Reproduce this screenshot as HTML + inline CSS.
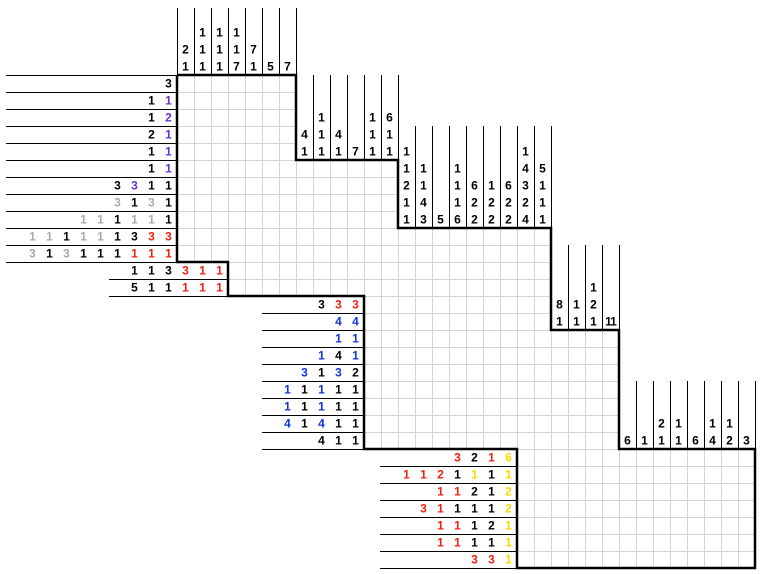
<!DOCTYPE html>
<html><head><meta charset="utf-8"><style>
html,body{margin:0;padding:0;background:#fff;}
svg{display:block;}
text{font-family:"Liberation Sans",Arial,sans-serif;font-weight:bold;font-size:12px;text-anchor:middle;fill:#000;}
.p{fill:#6633cc}.g{fill:#aaaaaa}.r{fill:#ee2211}.b{fill:#1133dd}.y{fill:#ffd700}
</style></head><body>
<svg width="761" height="574" viewBox="0 0 761 574" xmlns="http://www.w3.org/2000/svg">
<defs>
<pattern id="gr" x="177" y="75" width="17" height="17" patternUnits="userSpaceOnUse">
<path d="M0 0.5H17M0.5 0V17" stroke="#d4d4d4" stroke-width="1" fill="none"/>
</pattern>
</defs>
<rect x="177" y="75" width="578" height="493" fill="url(#gr)"/>
<polygon points="296,75 761,75 761,449 619,449 619,330 551,330 551,228 398,228 398,160 296,160" fill="#fff"/>
<polygon points="177,262 228,262 228,296 364,296 364,449 517,449 517,574 177,574" fill="#fff"/>
<g stroke="#000" stroke-width="1">
<path d="M177.5 8V75M194.5 8V75M211.5 8V75M228.5 8V75M245.5 8V75M262.5 8V75M279.5 8V75M296.5 8V75"/>
<path d="M313.5 75V160M330.5 75V160M347.5 75V160M364.5 75V160M381.5 75V160M398.5 75V160"/>
<path d="M398.5 126V228M415.5 126V228M432.5 126V228M449.5 126V228M466.5 126V228M483.5 126V228M500.5 126V228M517.5 126V228M534.5 126V228M551.5 126V228"/>
<path d="M568.5 245V330M585.5 245V330M602.5 245V330M619.5 245V330"/>
<path d="M636.5 381V449M653.5 381V449M670.5 381V449M687.5 381V449M704.5 381V449M721.5 381V449M738.5 381V449M755.5 381V449"/>
<path d="M6 75.5H177M6 92.5H177M6 109.5H177M6 126.5H177M6 143.5H177M6 160.5H177M6 177.5H177M6 194.5H177M6 211.5H177M6 228.5H177M6 245.5H177M6 262.5H177"/>
<path d="M109 279.5H228M109 296.5H228"/>
<path d="M262 313.5H364M262 330.5H364M262 347.5H364M262 364.5H364M262 381.5H364M262 398.5H364M262 415.5H364M262 432.5H364M262 449.5H364M228 296.5H364"/>
<path d="M380 466.5H517M380 483.5H517M380 500.5H517M380 517.5H517M380 534.5H517M380 551.5H517M380 568.5H517"/>
</g>
<polyline points="177,75 296,75 296,160 398,160 398,228 551,228 551,330 619,330 619,449 755,449 755,568 517,568 517,449 364,449 364,296 228,296 228,262 177,262 177,75" fill="none" stroke="#000" stroke-width="2.5"/>

<text x="185.5" y="53.5">2</text><text x="185.5" y="70.5">1</text>
<text x="202.5" y="36.5">1</text><text x="202.5" y="53.5">1</text><text x="202.5" y="70.5">1</text>
<text x="219.5" y="36.5">1</text><text x="219.5" y="53.5">1</text><text x="219.5" y="70.5">1</text>
<text x="236.5" y="36.5">1</text><text x="236.5" y="53.5">1</text><text x="236.5" y="70.5">7</text>
<text x="253.5" y="53.5">7</text><text x="253.5" y="70.5">1</text>
<text x="270.5" y="70.5">5</text>
<text x="287.5" y="70.5">7</text>
<text x="304.5" y="138.5">4</text><text x="304.5" y="155.5">1</text>
<text x="321.5" y="121.5">1</text><text x="321.5" y="138.5">1</text><text x="321.5" y="155.5">1</text>
<text x="338.5" y="138.5">4</text><text x="338.5" y="155.5">1</text>
<text x="355.5" y="155.5">7</text>
<text x="372.5" y="121.5">1</text><text x="372.5" y="138.5">1</text><text x="372.5" y="155.5">1</text>
<text x="389.5" y="121.5">6</text><text x="389.5" y="138.5">1</text><text x="389.5" y="155.5">1</text>
<text x="406.5" y="155.5">1</text><text x="406.5" y="172.5">1</text><text x="406.5" y="189.5">2</text><text x="406.5" y="206.5">1</text><text x="406.5" y="223.5">1</text>
<text x="423.5" y="172.5">1</text><text x="423.5" y="189.5">1</text><text x="423.5" y="206.5">4</text><text x="423.5" y="223.5">3</text>
<text x="440.5" y="223.5">5</text>
<text x="457.5" y="172.5">1</text><text x="457.5" y="189.5">1</text><text x="457.5" y="206.5">1</text><text x="457.5" y="223.5">6</text>
<text x="474.5" y="189.5">6</text><text x="474.5" y="206.5">2</text><text x="474.5" y="223.5">2</text>
<text x="491.5" y="189.5">1</text><text x="491.5" y="206.5">2</text><text x="491.5" y="223.5">2</text>
<text x="508.5" y="189.5">6</text><text x="508.5" y="206.5">2</text><text x="508.5" y="223.5">2</text>
<text x="525.5" y="155.5">1</text><text x="525.5" y="172.5">4</text><text x="525.5" y="189.5">3</text><text x="525.5" y="206.5">2</text><text x="525.5" y="223.5">4</text>
<text x="542.5" y="172.5">5</text><text x="542.5" y="189.5">1</text><text x="542.5" y="206.5">1</text><text x="542.5" y="223.5">1</text>
<text x="559.5" y="308.5">8</text><text x="559.5" y="325.5">1</text>
<text x="576.5" y="308.5">1</text><text x="576.5" y="325.5">1</text>
<text x="593.5" y="291.5">1</text><text x="593.5" y="308.5">2</text><text x="593.5" y="325.5">1</text>
<text x="610.5" y="325.5" style="letter-spacing:-1px">11</text>
<text x="627.5" y="444.5">6</text>
<text x="644.5" y="444.5">1</text>
<text x="661.5" y="427.5">2</text><text x="661.5" y="444.5">1</text>
<text x="678.5" y="427.5">1</text><text x="678.5" y="444.5">1</text>
<text x="695.5" y="444.5">6</text>
<text x="712.5" y="427.5">1</text><text x="712.5" y="444.5">4</text>
<text x="729.5" y="427.5">1</text><text x="729.5" y="444.5">2</text>
<text x="746.5" y="444.5">3</text>

<text x="168.5" y="87.5">3</text>
<text x="151.5" y="104.5">1</text><text x="168.5" y="104.5" class="p">1</text>
<text x="151.5" y="121.5">1</text><text x="168.5" y="121.5" class="p">2</text>
<text x="151.5" y="138.5">2</text><text x="168.5" y="138.5" class="p">1</text>
<text x="151.5" y="155.5">1</text><text x="168.5" y="155.5" class="p">1</text>
<text x="151.5" y="172.5">1</text><text x="168.5" y="172.5" class="p">1</text>
<text x="117.5" y="189.5">3</text><text x="134.5" y="189.5" class="p">3</text><text x="151.5" y="189.5">1</text><text x="168.5" y="189.5">1</text>
<text x="117.5" y="206.5" class="g">3</text><text x="134.5" y="206.5">1</text><text x="151.5" y="206.5" class="g">3</text><text x="168.5" y="206.5">1</text>
<text x="83.5" y="223.5" class="g">1</text><text x="100.5" y="223.5" class="g">1</text><text x="117.5" y="223.5">1</text><text x="134.5" y="223.5" class="g">1</text><text x="151.5" y="223.5" class="g">1</text><text x="168.5" y="223.5">1</text>
<text x="32.5" y="240.5" class="g">1</text><text x="49.5" y="240.5" class="g">1</text><text x="66.5" y="240.5">1</text><text x="83.5" y="240.5" class="g">1</text><text x="100.5" y="240.5" class="g">1</text><text x="117.5" y="240.5">1</text><text x="134.5" y="240.5">3</text><text x="151.5" y="240.5" class="r">3</text><text x="168.5" y="240.5" class="r">3</text>
<text x="32.5" y="257.5" class="g">3</text><text x="49.5" y="257.5">1</text><text x="66.5" y="257.5" class="g">3</text><text x="83.5" y="257.5">1</text><text x="100.5" y="257.5">1</text><text x="117.5" y="257.5">1</text><text x="134.5" y="257.5" class="r">1</text><text x="151.5" y="257.5" class="r">1</text><text x="168.5" y="257.5" class="r">1</text>
<text x="134.5" y="274.5">1</text><text x="151.5" y="274.5">1</text><text x="168.5" y="274.5">3</text><text x="185.5" y="274.5" class="r">3</text><text x="202.5" y="274.5" class="r">1</text><text x="219.5" y="274.5" class="r">1</text>
<text x="134.5" y="291.5">5</text><text x="151.5" y="291.5">1</text><text x="168.5" y="291.5">1</text><text x="185.5" y="291.5" class="r">1</text><text x="202.5" y="291.5" class="r">1</text><text x="219.5" y="291.5" class="r">1</text>
<text x="321.5" y="308.5">3</text><text x="338.5" y="308.5" class="r">3</text><text x="355.5" y="308.5" class="r">3</text>
<text x="338.5" y="325.5" class="b">4</text><text x="355.5" y="325.5" class="b">4</text>
<text x="338.5" y="342.5" class="b">1</text><text x="355.5" y="342.5" class="b">1</text>
<text x="321.5" y="359.5" class="b">1</text><text x="338.5" y="359.5">4</text><text x="355.5" y="359.5" class="b">1</text>
<text x="304.5" y="376.5" class="b">3</text><text x="321.5" y="376.5">1</text><text x="338.5" y="376.5" class="b">3</text><text x="355.5" y="376.5">2</text>
<text x="287.5" y="393.5" class="b">1</text><text x="304.5" y="393.5">1</text><text x="321.5" y="393.5" class="b">1</text><text x="338.5" y="393.5">1</text><text x="355.5" y="393.5">1</text>
<text x="287.5" y="410.5" class="b">1</text><text x="304.5" y="410.5">1</text><text x="321.5" y="410.5" class="b">1</text><text x="338.5" y="410.5">1</text><text x="355.5" y="410.5">1</text>
<text x="287.5" y="427.5" class="b">4</text><text x="304.5" y="427.5">1</text><text x="321.5" y="427.5" class="b">4</text><text x="338.5" y="427.5">1</text><text x="355.5" y="427.5">1</text>
<text x="321.5" y="444.5">4</text><text x="338.5" y="444.5">1</text><text x="355.5" y="444.5">1</text>
<text x="457.5" y="461.5" class="r">3</text><text x="474.5" y="461.5">2</text><text x="491.5" y="461.5" class="r">1</text><text x="508.5" y="461.5" class="y">6</text>
<text x="406.5" y="478.5" class="r">1</text><text x="423.5" y="478.5" class="r">1</text><text x="440.5" y="478.5" class="r">2</text><text x="457.5" y="478.5">1</text><text x="474.5" y="478.5" class="y">1</text><text x="491.5" y="478.5">1</text><text x="508.5" y="478.5" class="y">1</text>
<text x="440.5" y="495.5" class="r">1</text><text x="457.5" y="495.5" class="r">1</text><text x="474.5" y="495.5">2</text><text x="491.5" y="495.5">1</text><text x="508.5" y="495.5" class="y">2</text>
<text x="423.5" y="512.5" class="r">3</text><text x="440.5" y="512.5" class="r">1</text><text x="457.5" y="512.5">1</text><text x="474.5" y="512.5">1</text><text x="491.5" y="512.5">1</text><text x="508.5" y="512.5" class="y">2</text>
<text x="440.5" y="529.5" class="r">1</text><text x="457.5" y="529.5" class="r">1</text><text x="474.5" y="529.5">1</text><text x="491.5" y="529.5">2</text><text x="508.5" y="529.5" class="y">1</text>
<text x="440.5" y="546.5" class="r">1</text><text x="457.5" y="546.5" class="r">1</text><text x="474.5" y="546.5">1</text><text x="491.5" y="546.5">1</text><text x="508.5" y="546.5" class="y">1</text>
<text x="474.5" y="563.5" class="r">3</text><text x="491.5" y="563.5" class="r">3</text><text x="508.5" y="563.5" class="y">1</text>
</svg>
</body></html>
